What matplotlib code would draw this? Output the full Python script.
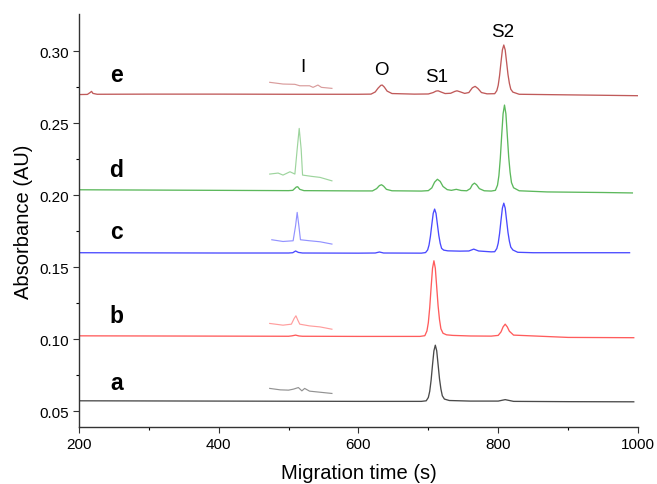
import matplotlib.pyplot as plt

plt.rcParams['font.family'] = ['Liberation Sans', 'DejaVu Sans']

# electropherograms (time in s, absorbance in AU)
t_a = [200, 300, 400, 500, 600, 690, 697, 700, 702, 704, 706, 708, 710, 712, 714,
       716, 718, 720, 723, 730, 760, 800, 805, 810, 815, 822, 900, 994]
y_a = [0.0572, 0.0571, 0.0570, 0.0569, 0.0568, 0.0568, 0.0572, 0.0595, 0.0638, 0.0716,
       0.0822, 0.0919, 0.0958, 0.0919, 0.0822, 0.0724, 0.0654, 0.0607, 0.0584, 0.0574,
       0.0570, 0.0570, 0.0575, 0.0580, 0.0575, 0.0568, 0.0566, 0.0565]

t_b = [200, 300, 400, 500, 505, 510, 515, 520, 600, 688, 695, 698, 700, 702, 704, 706,
       708, 710, 712, 714, 716, 718, 721, 726, 735, 760, 790, 800, 804, 807, 810, 813,
       816, 822, 900, 994]
y_b = [0.1023, 0.1022, 0.1021, 0.1020, 0.1023, 0.1028, 0.1022, 0.1020, 0.1019, 0.1019,
       0.1024, 0.1057, 0.1114, 0.1219, 0.1361, 0.1492, 0.1544, 0.1492, 0.1361, 0.1230,
       0.1135, 0.1072, 0.1041, 0.1030, 0.1026, 0.1022, 0.1021, 0.1026, 0.1050, 0.1085,
       0.1104, 0.1085, 0.1055, 0.1028, 0.1012, 0.1010]

t_c = [200, 300, 400, 500, 506, 510, 514, 520, 600, 624, 630, 636, 690, 696, 699, 701,
       703, 705, 707, 709, 711, 713, 715, 717, 719, 722, 728, 745, 758, 765, 772, 790,
       795, 798, 800, 802, 804, 806, 808, 810, 812, 814, 816, 818, 821, 828, 850, 900, 988]
y_c = [0.1600, 0.1599, 0.1598, 0.1598, 0.1600, 0.1612, 0.1602, 0.1598, 0.1597, 0.1598,
       0.1605, 0.1598, 0.1597, 0.1601, 0.1619, 0.1653, 0.1714, 0.1796, 0.1873, 0.1903,
       0.1873, 0.1796, 0.1720, 0.1665, 0.1630, 0.1618, 0.1613, 0.1611, 0.1612, 0.1625,
       0.1612, 0.1606, 0.1607, 0.1629, 0.1666, 0.1734, 0.1825, 0.1910, 0.1944, 0.1910,
       0.1825, 0.1741, 0.1680, 0.1639, 0.1619, 0.1603, 0.1600, 0.1600, 0.1600]

t_d = [200, 300, 400, 500, 506, 511, 513, 516, 522, 600, 620, 626, 630, 633, 636, 640,
       648, 690, 700, 705, 709, 713, 717, 721, 727, 733, 740, 747, 755, 760, 763, 766,
       769, 773, 780, 790, 796, 799, 801, 803, 805, 807, 809, 811, 813, 815, 817, 819,
       822, 830, 870, 950, 992]
y_d = [0.2037, 0.2035, 0.2033, 0.2031, 0.2033, 0.2056, 0.2058, 0.2040, 0.2031, 0.2029,
       0.2029, 0.2045, 0.2066, 0.2072, 0.2062, 0.2040, 0.2030, 0.2028, 0.2031, 0.2050,
       0.2090, 0.2110, 0.2095, 0.2060, 0.2038, 0.2033, 0.2040, 0.2032, 0.2030, 0.2045,
       0.2072, 0.2083, 0.2072, 0.2045, 0.2030, 0.2028, 0.2033, 0.2069, 0.2135, 0.2254,
       0.2416, 0.2565, 0.2625, 0.2565, 0.2416, 0.2266, 0.2159, 0.2087, 0.2051, 0.2030,
       0.2022, 0.2018, 0.2015]

t_e = [200, 212, 216, 218, 220, 226, 300, 400, 500, 600, 618, 624, 628, 632, 634, 637,
       641, 648, 680, 700, 707, 711, 714, 718, 724, 732, 738, 741, 745, 752, 758, 763,
       767, 771, 776, 784, 795, 798, 800, 802, 804, 806, 808, 810, 812, 814, 816, 818,
       821, 830, 880, 950, 1000]
y_e = [0.2698, 0.2699, 0.2712, 0.2720, 0.2706, 0.2700, 0.2701, 0.2701, 0.2700, 0.2700,
       0.2701, 0.2716, 0.2742, 0.2762, 0.2764, 0.2750, 0.2722, 0.2705, 0.2701, 0.2702,
       0.2712, 0.2722, 0.2724, 0.2716, 0.2705, 0.2707, 0.2720, 0.2724, 0.2718, 0.2706,
       0.2712, 0.2745, 0.2755, 0.2740, 0.2712, 0.2703, 0.2704, 0.2725, 0.2762, 0.2831,
       0.2923, 0.3008, 0.3042, 0.3008, 0.2923, 0.2837, 0.2776, 0.2735, 0.2715, 0.2700,
       0.2697, 0.2693, 0.2690]

# magnified "I" region insets
ti_a = [473, 488, 500, 507, 514, 519, 523, 530, 540, 562]
yi_a = [0.0658, 0.0648, 0.0646, 0.0653, 0.0664, 0.0641, 0.0658, 0.0639, 0.0634, 0.0623]
ti_b = [473, 492, 504, 508, 510.5, 513, 516, 530, 545, 562]
yi_b = [0.1109, 0.1097, 0.1104, 0.1144, 0.1162, 0.1134, 0.1104, 0.1092, 0.1085, 0.1069]
ti_c = [476, 492, 506.5, 510, 512.3, 514.7, 517, 530, 545, 562]
yi_c = [0.1690, 0.1678, 0.1683, 0.1787, 0.1880, 0.1787, 0.1690, 0.1683, 0.1676, 0.1660]
ti_d = [473, 485, 492, 502, 509, 512.3, 515.2, 518, 520, 533, 545, 562]
yi_d = [0.2146, 0.2153, 0.2139, 0.2162, 0.2146, 0.2319, 0.2463, 0.2319, 0.2139, 0.2130,
        0.2123, 0.2099]
ti_e = [473, 492, 509, 516, 530, 535, 542, 547, 562]
yi_e = [0.2783, 0.2771, 0.2769, 0.2759, 0.2759, 0.2748, 0.2764, 0.2748, 0.2741]

trace_labels = ['a', 'b', 'c', 'd', 'e']
label_y = [0.0653, 0.1116, 0.1699, 0.2134, 0.2792]
colors = ['#4a4a4a', '#ff5c5c', '#4a4aff', '#5cb85c', '#c05a5a']

peak_names = ['I', 'O', 'S1', 'S2']
peak_x = [520, 633, 712, 807]
peak_y = [0.2863, 0.2840, 0.2794, 0.3106]

fig = plt.figure(figsize=(6.57, 4.85), dpi=100)
ax = fig.add_axes([0.1202, 0.1175, 0.8508, 0.8515])

traces = [(t_a, y_a), (t_b, y_b), (t_c, y_c), (t_d, y_d), (t_e, y_e)]
insets = [(ti_a, yi_a), (ti_b, yi_b), (ti_c, yi_c), (ti_d, yi_d), (ti_e, yi_e)]
for (t, y), (ti, yi), col in zip(traces, insets, colors):
    ax.plot(t, y, color=col, lw=0.95)
    ax.plot(ti, yi, color=col, lw=0.85, alpha=0.6)

for lab, ly in zip(trace_labels, label_y):
    ax.text(253.6, ly, lab, ha='center', va='baseline', fontsize=16.5, fontweight='bold')

for name, px, py in zip(peak_names, peak_x, peak_y):
    ax.text(px, py, name, ha='center', va='baseline', fontsize=13.5)

ax.set_xlim(200, 1000)
ax.set_ylim(0.039, 0.3257)
ax.set_xticks([200, 400, 600, 800, 1000])
ax.set_xticks([300, 500, 700, 900], minor=True)
ax.set_yticks([0.05, 0.10, 0.15, 0.20, 0.25, 0.30])
ax.set_yticks([0.075, 0.125, 0.175, 0.225, 0.275], minor=True)
ax.set_yticklabels(['0.05', '0.10', '0.15', '0.20', '0.25', '0.30'])
ax.tick_params(labelsize=11, length=4, width=0.8, color='#333333')
ax.tick_params(which='minor', length=2.5, width=0.8)
for s in ['top', 'right']:
    ax.spines[s].set_visible(False)
for s in ['left', 'bottom']:
    ax.spines[s].set_color('#333333')
    ax.spines[s].set_linewidth(1.0)

ax.set_xlabel('Migration time (s)', fontsize=14.5, labelpad=8)
ax.set_ylabel('Absorbance (AU)', fontsize=14.5, labelpad=4)

fig.savefig('out.png', dpi=100)
